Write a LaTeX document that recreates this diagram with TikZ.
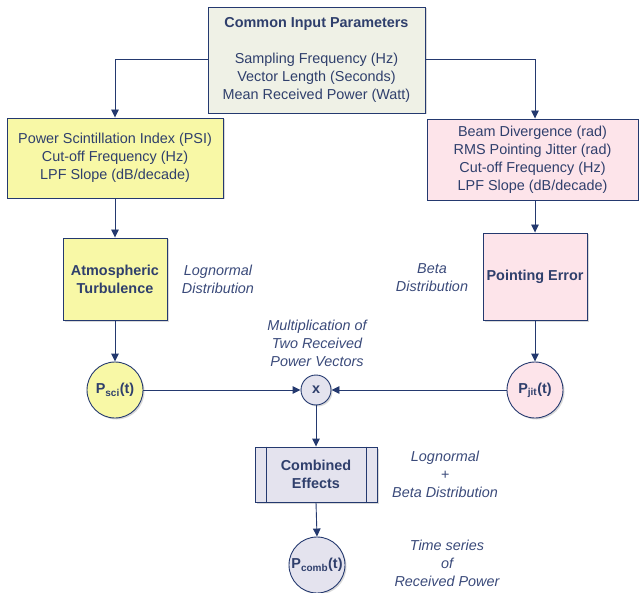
\documentclass[tikz,border=0pt]{standalone}
\usepackage{fontspec}
\setmainfont{Liberation Sans}
\usetikzlibrary{arrows.meta,shadows,calc}
\definecolor{navy}{HTML}{24396F}
\definecolor{txt}{HTML}{2F3F6C}
\definecolor{lbl}{HTML}{3A4A7A}
\definecolor{topfill}{HTML}{EFF1E6}
\definecolor{yel}{HTML}{F8F8A6}
\definecolor{pnk}{HTML}{FDE4EA}
\definecolor{lav}{HTML}{E4E3EE}
\begin{document}
\begin{tikzpicture}[x=1pt,y=-1pt,
  every node/.style={font=\fontsize{14.4}{18}\selectfont, text=txt, align=center},
  shad/.style={drop shadow={shadow xshift=1.5pt,shadow yshift=-1.5pt,opacity=0.3,fill=black!50}},
  box/.style={draw=navy, line width=0.9pt, shad, inner sep=0pt},
  circ/.style={circle, draw=navy, line width=0.9pt, shad, inner sep=0pt},
  conn/.style={draw=navy, line width=0.9pt, -{Triangle[length=8pt,width=7.5pt]}},
  lab/.style={text=lbl, font=\fontsize{14.4}{18}\selectfont\itshape}
]
\useasboundingbox (0,0) rectangle (639,593);

\node[box, fill=topfill, minimum width=217pt, minimum height=106pt] (top) at (316.5,60)
  {\textbf{Common Input Parameters}\\[18pt]Sampling Frequency (Hz)\\Vector Length (Seconds)\\Mean Received Power (Watt)};

\node[box, fill=yel, minimum width=216pt, minimum height=80pt] (yl) at (115,158)
  {Power Scintillation Index (PSI)\\Cut-off Frequency (Hz)\\LPF Slope (dB/decade)};

\node[box, fill=pnk, minimum width=211pt, minimum height=81pt] (pk) at (532.5,159.5)
  {Beam Divergence (rad)\\RMS Pointing Jitter (rad)\\Cut-off Frequency (Hz)\\LPF Slope (dB/decade)};

\node[box, fill=yel, minimum width=104pt, minimum height=82pt] (atm) at (115,279)
  {\textbf{Atmospheric}\\\textbf{Turbulence}};

\node[box, fill=pnk, minimum width=104pt, minimum height=87pt] (pe) at (535,276.5)
  {\textbf{Pointing Error}};

\node[circ, fill=yel, minimum size=56pt] (psci) at (115,390) {\textbf{P\textsubscript{sci}(t)}};
\node[circ, fill=pnk, minimum size=56pt] (pjit) at (535,390) {\textbf{P\textsubscript{jit}(t)}};
\node[circ, fill=lav, minimum size=30pt] (mul) at (316,390) {\textbf{x}};

\node[box, fill=lav, minimum width=122pt, minimum height=55pt] (comb) at (316,474.5)
  {\textbf{Combined}\\\textbf{Effects}};
\draw[navy, line width=0.9pt] ($(comb.north west)+(12,0)$) -- ($(comb.south west)+(12,0)$);
\draw[navy, line width=0.9pt] ($(comb.north east)+(-11,0)$) -- ($(comb.south east)+(-11,0)$);

\node[circ, fill=lav, minimum size=56pt] (pcomb) at (317,565) {\textbf{P\textsubscript{comb}(t)}};

\node[lab] (l1) at (218,279) {Lognormal\\Distribution};
\node[lab] (l2) at (432,278) {Beta\\Distribution};
\node[lab] (l3) at (317,343) {Multiplication of\\Two Received\\Power Vectors};
\node[lab] (l4) at (445,474) {Lognormal\\+\\Beta Distribution};
\node[lab] (l5) at (447,563) {Time series\\of\\Received Power};

\draw[conn] ([yshift=1pt]top.west) -| (yl.north);
\draw[conn] ([yshift=1pt]top.east) -| (pe.north |- pk.north);
\draw[conn] (yl.south) -- (atm.north);
\draw[conn] (pe.north |- pk.south) -- (pe.north);
\draw[conn] (atm.south) -- (psci.north);
\draw[conn] (pe.south) -- (pjit.north);
\draw[conn] (psci.east) -- (mul.west);
\draw[conn] (pjit.west) -- (mul.east);
\draw[conn] (mul.south) -- (comb.north);
\draw[conn] (comb.south) -- (pcomb.north);
\end{tikzpicture}
\end{document}
